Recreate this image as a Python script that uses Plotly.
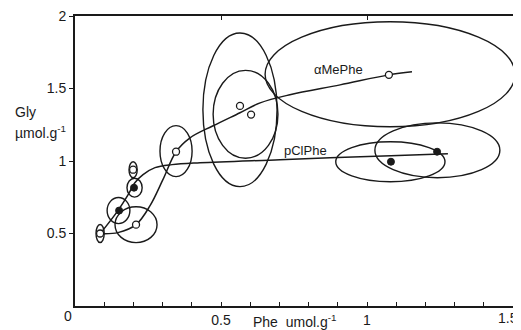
import plotly.graph_objects as go

# ---- data ----
# alpha-MePhe: open circles
me_x = [0.086, 0.209, 0.346, 0.565, 0.603, 1.075]
me_y = [0.50, 0.561, 1.064, 1.38, 1.32, 1.594]
# extra open point
ex_x = [0.199]
ex_y = [0.94]
# pClPhe: filled circles
cl_x = [0.151, 0.202, 1.082, 1.240]
cl_y = [0.658, 0.816, 0.995, 1.064]

# fitted curves
me_curve_x = [0.086, 0.147, 0.209, 0.257, 0.301, 0.346, 0.394, 0.473, 0.565, 0.634, 0.736, 0.908, 1.075, 1.154]
me_curve_y = [0.499, 0.506, 0.561, 0.692, 0.871, 1.064, 1.160, 1.243, 1.333, 1.401, 1.457, 1.525, 1.594, 1.615]
cl_curve_x = [0.089, 0.147, 0.182, 0.205, 0.233, 0.274, 0.332, 0.428, 0.702, 1.082, 1.277]
cl_curve_y = [0.506, 0.658, 0.768, 0.850, 0.906, 0.954, 0.975, 0.988, 1.009, 1.037, 1.050]

# error ellipses: centre x, centre y, half-width, half-height
ell_cx = [0.086, 0.199, 0.204, 0.149, 0.209, 0.346, 0.565, 0.584, 1.079, 1.080, 1.241]
ell_cy = [0.50, 0.94, 0.816, 0.658, 0.561, 1.068, 1.353, 1.322, 1.598, 0.995, 1.074]
ell_rx = [0.014, 0.014, 0.026, 0.039, 0.072, 0.055, 0.127, 0.111, 0.428, 0.187, 0.214]
ell_ry = [0.062, 0.055, 0.065, 0.090, 0.124, 0.176, 0.530, 0.303, 0.362, 0.138, 0.189]

x_minor = [round(0.1 * i, 1) for i in range(0, 16)]
x_major_labels = {0.5: "0.5", 1.0: "1"}
x_last_label = "1.5"
y_ticks = [0.5, 1, 1.5, 2]
y_labels = ["0.5", "1", "1.5", "2"]

FONT = "Liberation Sans"
INK = "#1a1a1a"

fig = go.Figure()

fig.add_trace(go.Scatter(x=me_curve_x, y=me_curve_y, mode="lines",
                         line=dict(color=INK, width=1.5, shape="spline", smoothing=1.0),
                         hoverinfo="skip", showlegend=False))
fig.add_trace(go.Scatter(x=cl_curve_x, y=cl_curve_y, mode="lines",
                         line=dict(color=INK, width=1.5, shape="spline", smoothing=1.0),
                         hoverinfo="skip", showlegend=False))

for cx, cy, rx, ry in zip(ell_cx, ell_cy, ell_rx, ell_ry):
    fig.add_shape(type="circle", xref="x", yref="y",
                  x0=cx - rx, x1=cx + rx, y0=cy - ry, y1=cy + ry,
                  line=dict(color=INK, width=1.4), layer="below")

fig.add_trace(go.Scatter(x=me_x + ex_x, y=me_y + ex_y, mode="markers",
                         marker=dict(symbol="circle", size=7, color="white",
                                     line=dict(color=INK, width=1.3)),
                         showlegend=False))
fig.add_trace(go.Scatter(x=cl_x, y=cl_y, mode="markers",
                         marker=dict(symbol="circle", size=7, color=INK,
                                     line=dict(color=INK, width=1)),
                         showlegend=False))
# invisible trace for the mirrored tick axes
fig.add_trace(go.Scatter(x=[0], y=[0], xaxis="x2", yaxis="y2", mode="markers",
                         marker=dict(opacity=0), hoverinfo="skip", showlegend=False))

fig.add_annotation(x=0.904, y=1.628, text="αMePhe", showarrow=False,
                   font=dict(family=FONT, size=13, color=INK))
fig.add_annotation(x=0.788, y=1.075, text="pClPhe", showarrow=False,
                   font=dict(family=FONT, size=13, color=INK))
fig.add_annotation(x=0, y=0, xref="x", yref="y", text="0", showarrow=False,
                   xshift=-7, yshift=-10, font=dict(family=FONT, size=14, color=INK))
# last x tick label, kept inside the window's right edge
fig.add_annotation(x=1, y=0, xref="paper", yref="paper", text=x_last_label,
                   xanchor="right", yanchor="middle", showarrow=False,
                   xshift=1, yshift=-12, font=dict(family=FONT, size=14, color=INK))
fig.add_annotation(x=-0.1396, y=0.668, xref="paper", yref="paper", text="Gly",
                   xanchor="left", yanchor="middle", showarrow=False,
                   font=dict(family=FONT, size=14, color=INK))
fig.add_annotation(x=-0.1396, y=0.601, xref="paper", yref="paper", text="µmol.g<sup>-1</sup>",
                   xanchor="left", yanchor="middle", showarrow=False,
                   font=dict(family=FONT, size=14, color=INK))
fig.add_annotation(x=0.603, y=0, xref="x", yref="paper", text="Phe  umol.g<sup>-1</sup>",
                   xanchor="left", yanchor="middle", showarrow=False, yshift=-15,
                   font=dict(family=FONT, size=14, color=INK))

xr = [0, 1.5205]
yr = [0, 2.0]

common = dict(showgrid=False, zeroline=False, fixedrange=True, automargin=False)

# the page body adds an 8px margin, so the figure is offset to match the window
fig.update_layout(
    width=513, height=322,
    margin=dict(l=67, r=2, t=8, b=23.5, autoexpand=False),
    paper_bgcolor="white", plot_bgcolor="white",
    font=dict(family=FONT, size=14, color=INK),
    xaxis=dict(range=xr, tickmode="array", tickvals=x_minor,
               ticktext=[x_major_labels.get(v, "") for v in x_minor],
               ticks="inside", ticklen=4, tickwidth=1.3, tickcolor=INK,
               ticklabeloverflow="allow",
               showline=True, linecolor=INK, linewidth=1.8, mirror=True, **common),
    yaxis=dict(range=yr, tickmode="array", tickvals=y_ticks, ticktext=y_labels,
               ticks="outside", ticklen=4, tickwidth=1.3, tickcolor=INK,
               ticklabeloverflow="allow",
               showline=True, linecolor=INK, linewidth=1.8, mirror=True, **common),
    xaxis2=dict(range=xr, overlaying="x", side="top", anchor="y",
                tickmode="array", tickvals=[0.5, 1.0, 1.5], showticklabels=False,
                ticks="inside", ticklen=4, tickwidth=1.3, tickcolor=INK,
                showline=False, **common),
    yaxis2=dict(range=yr, overlaying="y", side="right", anchor="x",
                tickmode="array", tickvals=[0.5, 1.0, 1.5], showticklabels=False,
                ticks="inside", ticklen=5, tickwidth=1.3, tickcolor=INK,
                showline=False, **common),
)

fig.write_html("out.html")
